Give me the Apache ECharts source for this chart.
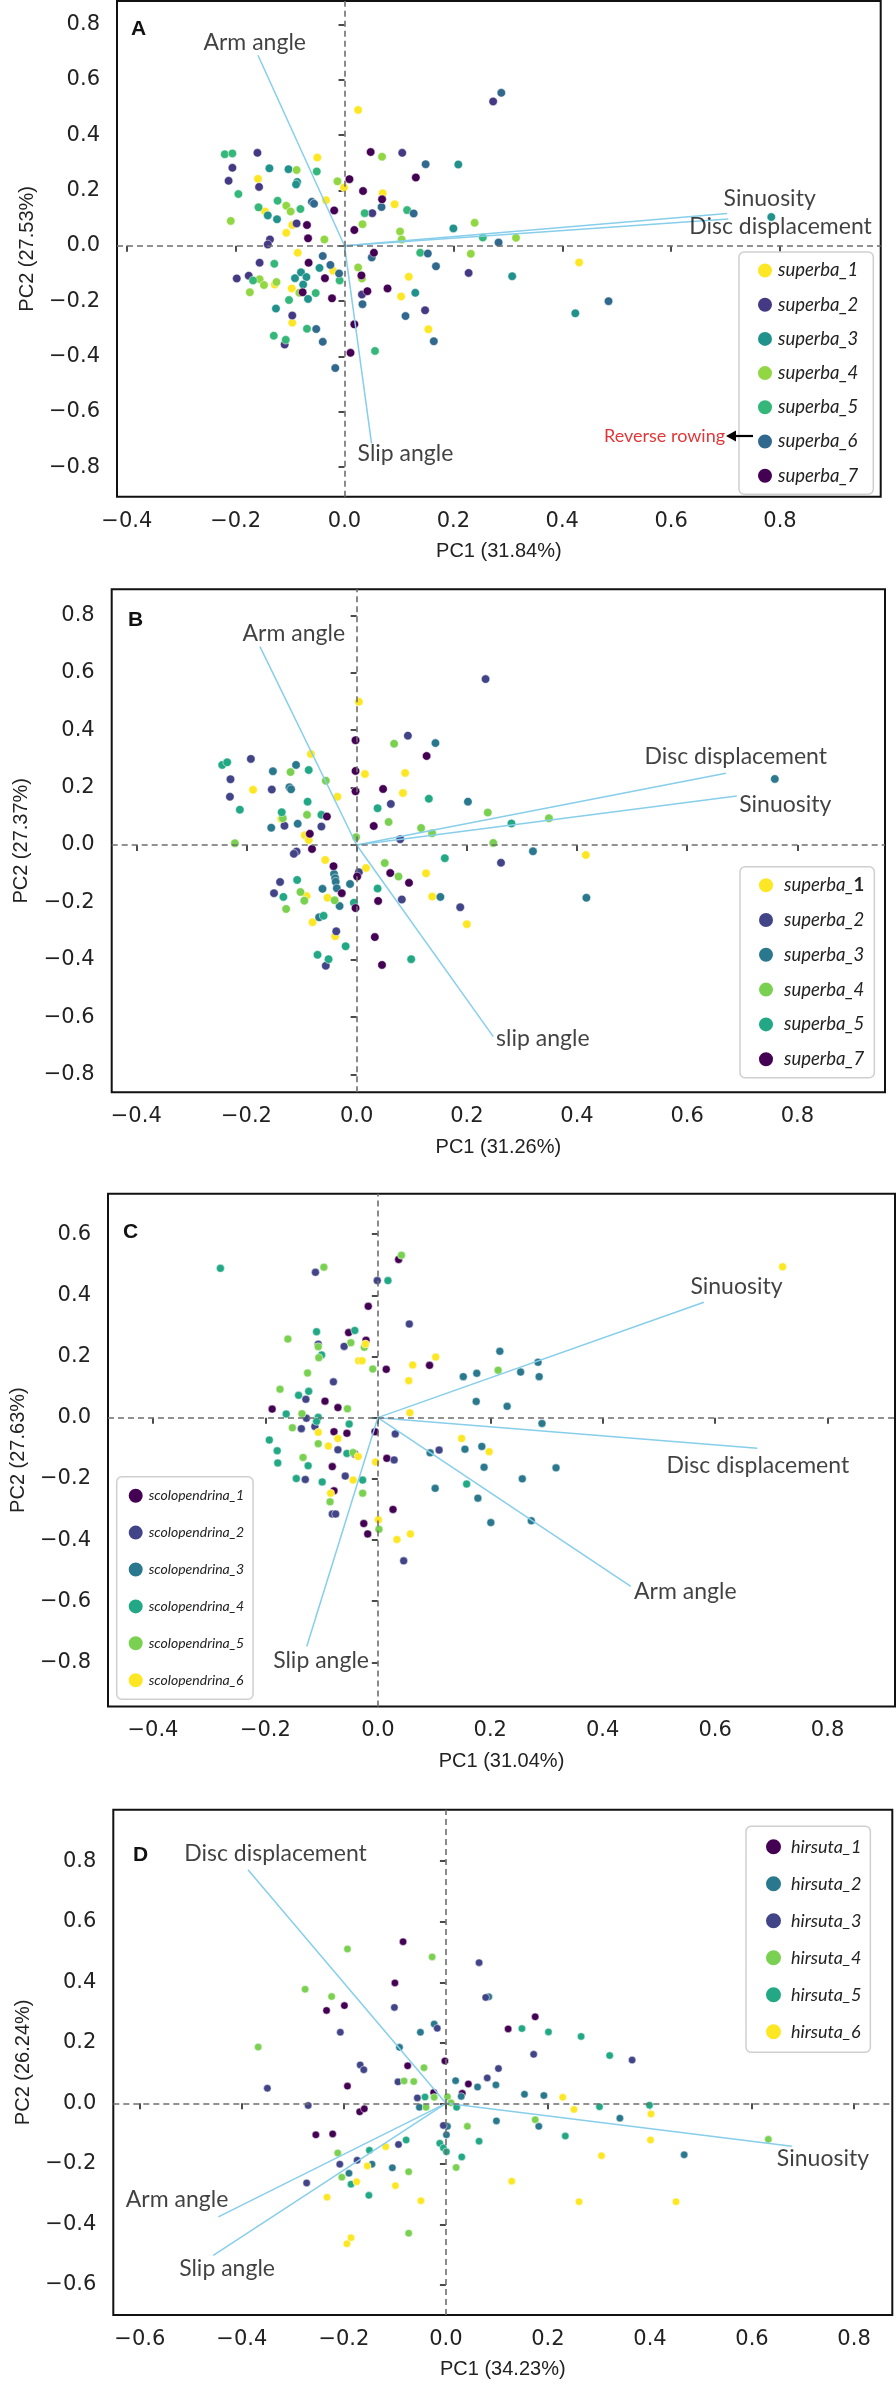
<!DOCTYPE html>
<html><head><meta charset="utf-8">
<script src="https://cdn.jsdelivr.net/npm/echarts@6.0.0/dist/echarts.min.js"></script>
<style>html,body{margin:0;padding:0;background:#fff}#c{width:896px;height:2385px}</style>
</head><body><div id="c"></div>
<script>
// ---------------- DATA ----------------
// Panel A (superba, 7 groups)
const A_groups = ['superba_1','superba_2','superba_3','superba_4','superba_5','superba_6','superba_7'];
const A_s1 = [[-0.050,0.319],[-0.159,0.242],[-0.001,0.211],[0.070,0.190],[-0.034,0.165],[0.092,0.150],[-0.146,0.124],[-0.096,0.075],[-0.107,0.047],[-0.086,-0.025],[-0.128,-0.140],[-0.021,-0.090],[0.118,-0.112],[-0.097,-0.154],[0.104,-0.183],[-0.096,-0.278],[0.154,-0.302],[0.025,0.491],[0.431,-0.060]];
const A_s2 = [[-0.160,0.336],[0.106,0.336],[-0.206,0.282],[-0.213,0.235],[-0.157,0.213],[0.051,0.118],[-0.088,0.081],[-0.137,0.023],[-0.141,0.005],[-0.156,-0.061],[-0.198,-0.118],[-0.176,-0.108],[0.228,-0.098],[0.032,-0.176],[-0.096,-0.252],[0.148,-0.233],[-0.110,-0.357],[0.273,0.522]];
const A_s3 = [[0.209,0.294],[-0.138,0.280],[-0.103,0.277],[-0.087,0.231],[-0.089,0.222],[-0.141,0.110],[-0.124,0.096],[0.200,0.063],[-0.046,-0.080],[-0.091,-0.117],[-0.080,-0.096],[-0.070,-0.113],[0.308,-0.110],[-0.076,-0.140],[-0.067,-0.192],[0.130,-0.170],[-0.126,-0.227],[0.424,-0.244],[0.784,0.104]];
const A_s4 = [[0.069,0.322],[-0.088,0.274],[-0.013,0.233],[-0.107,0.145],[-0.099,0.124],[-0.209,0.090],[0.033,0.078],[0.102,0.052],[0.105,0.023],[0.239,0.083],[-0.037,0.023],[0.315,0.029],[0.232,-0.029],[0.025,-0.078],[-0.156,-0.121],[-0.148,-0.142],[-0.125,-0.131],[0.032,-0.118],[-0.174,-0.168],[-0.083,-0.170]];
const A_s5 = [[-0.220,0.331],[-0.206,0.334],[-0.051,0.269],[-0.195,0.187],[-0.123,0.163],[0.115,0.129],[-0.158,0.139],[-0.081,0.133],[0.037,0.118],[0.254,0.030],[0.139,-0.025],[-0.129,-0.065],[-0.168,-0.125],[-0.009,-0.125],[-0.053,-0.171],[-0.102,-0.196],[-0.130,-0.325],[-0.108,-0.340],[-0.069,-0.300],[0.056,-0.380]];
const A_s6 = [[0.149,0.295],[-0.060,0.159],[-0.056,0.152],[0.068,0.140],[0.127,0.117],[0.283,0.012],[-0.040,-0.037],[0.050,-0.042],[0.153,-0.028],[-0.026,-0.069],[-0.010,-0.100],[0.168,-0.074],[0.033,-0.211],[0.112,-0.254],[-0.052,-0.301],[-0.040,-0.347],[0.164,-0.345],[-0.017,-0.442],[0.288,0.553],[0.485,-0.200]];
const A_s7 = [[0.048,0.339],[0.009,0.241],[0.034,0.198],[0.069,0.168],[0.131,0.247],[-0.019,0.128],[-0.069,0.075],[0.018,0.057],[-0.067,0.027],[0.054,-0.025],[-0.066,-0.061],[-0.036,-0.117],[0.031,-0.107],[-0.077,-0.168],[-0.023,-0.190],[0.042,-0.164],[0.079,-0.154],[0.018,-0.284],[0.011,-0.387]];
const A_vectors = [['Arm angle',-0.159,0.689],['Slip angle',0.0496,-0.714],['Sinuosity',0.703,0.117],['Disc displacement',0.705,0.0965]];
const A_vectorLabels = [['Arm angle',-0.165,0.733],['Slip angle',0.112,-0.751],['Sinuosity',0.781,0.169],['Disc displacement',0.801,0.069]];

// Panel B (superba, 6 groups)
const B_groups = ['superba_1','superba_2','superba_3','superba_4','superba_5','superba_7'];
const B_s1 = [[0.004,0.499],[-0.083,0.317],[0.015,0.247],[0.088,0.251],[-0.188,0.192],[0.084,0.181],[-0.035,0.168],[-0.137,0.091],[-0.094,0.034],[-0.087,0.017],[-0.057,-0.052],[0.017,-0.080],[0.126,-0.099],[-0.091,-0.178],[-0.053,-0.184],[0.137,-0.180],[-0.080,-0.269],[0.200,-0.276],[-0.039,-0.318],[0.416,-0.035]];
const B_s2 = [[0.093,0.381],[-0.192,0.300],[-0.229,0.229],[-0.154,0.193],[-0.230,0.168],[0.062,0.143],[-0.131,0.067],[-0.064,0.064],[0.079,0.020],[-0.109,-0.023],[-0.114,-0.031],[0.262,-0.062],[0.004,-0.095],[-0.139,-0.129],[-0.150,-0.168],[0.082,-0.190],[0.188,-0.217],[-0.037,-0.301],[0.234,0.578],[-0.056,-0.421]];
const B_s3 = [[0.143,0.355],[-0.110,0.279],[-0.152,0.257],[-0.122,0.201],[-0.119,0.194],[0.202,0.151],[-0.155,0.060],[-0.107,0.074],[-0.041,-0.101],[-0.039,-0.116],[-0.038,-0.128],[-0.012,-0.136],[-0.062,-0.153],[-0.036,-0.151],[0.152,-0.181],[-0.031,-0.213],[-0.068,-0.252],[0.759,0.230],[0.320,-0.022],[0.417,-0.184]];
const B_s4 = [[0.068,0.353],[-0.120,0.254],[-0.056,0.224],[-0.090,0.105],[-0.134,0.093],[0.058,0.080],[0.238,0.113],[0.117,0.059],[0.137,0.041],[-0.001,0.027],[-0.221,0.006],[0.248,0.007],[0.051,-0.063],[0.076,-0.110],[-0.102,-0.164],[-0.040,-0.193],[-0.095,-0.194],[-0.128,-0.223],[0.349,0.093]];
const B_s5 = [[-0.244,0.279],[-0.235,0.288],[-0.087,0.261],[0.131,0.161],[-0.089,0.151],[0.038,0.128],[-0.212,0.123],[-0.136,0.114],[-0.064,0.105],[0.281,0.075],[0.160,-0.046],[-0.108,-0.122],[-0.133,-0.181],[0.038,-0.152],[-0.005,-0.201],[-0.060,-0.247],[-0.020,-0.353],[-0.071,-0.383],[-0.051,-0.398],[0.099,-0.398]];
const B_s7 = [[-0.002,0.365],[0.127,0.310],[-0.002,0.258],[-0.002,0.187],[0.048,0.195],[-0.054,0.099],[0.031,0.066],[-0.085,0.039],[-0.081,-0.014],[-0.042,-0.074],[0.001,-0.110],[0.061,-0.098],[0.095,-0.132],[-0.027,-0.168],[0.039,-0.195],[-0.002,-0.220],[0.033,-0.321],[0.046,-0.418]];
const B_vectors = [['Arm angle',-0.1755,0.691],['slip angle',0.248,-0.668],['Disc displacement',0.670,0.250],['Sinuosity',0.690,0.171]];
const B_vectorLabels = [['Arm angle',-0.114,0.738],['slip angle',0.338,-0.674],['Disc displacement',0.688,0.308],['Sinuosity',0.778,0.139]];

// Panel C (scolopendrina, 6 groups)
const C_groups = ['scolopendrina_1','scolopendrina_2','scolopendrina_3','scolopendrina_4','scolopendrina_5','scolopendrina_6'];
const C_s1 = [[0.037,0.517],[-0.017,0.364],[-0.052,0.278],[-0.021,0.253],[0.015,0.158],[0.092,0.171],[-0.094,0.054],[-0.188,0.028],[-0.071,0.033],[-0.078,-0.046],[-0.055,-0.051],[-0.005,-0.046],[-0.041,-0.119],[0.016,-0.133],[-0.081,-0.160],[-0.078,-0.239],[-0.025,-0.346],[-0.018,-0.380],[0.027,-0.300]];
const C_s2 = [[-0.111,0.475],[-0.001,0.448],[0.056,0.306],[-0.106,0.240],[-0.060,0.233],[-0.079,0.117],[-0.128,0.060],[-0.127,-0.002],[-0.112,-0.029],[-0.136,-0.036],[0.031,-0.053],[-0.071,-0.105],[0.029,-0.138],[0.109,-0.106],[-0.058,-0.191],[-0.129,-0.202],[-0.081,-0.315],[-0.075,-0.315],[0.046,-0.468]];
const C_s3 = [[0.217,0.217],[0.152,0.134],[0.176,0.145],[0.254,0.149],[0.285,0.181],[0.287,0.134],[0.175,0.053],[0.230,0.037],[0.292,-0.019],[0.185,-0.094],[0.155,-0.103],[0.093,-0.115],[0.189,-0.162],[0.317,-0.164],[0.257,-0.200],[0.102,-0.231],[0.178,-0.263],[0.201,-0.343],[0.273,-0.337]];
const C_s4 = [[-0.280,0.488],[0.018,0.448],[-0.109,0.281],[-0.041,0.285],[-0.100,0.205],[-0.141,0.073],[-0.123,0.086],[-0.163,0.012],[-0.106,0.001],[-0.109,-0.012],[-0.051,-0.021],[-0.193,-0.073],[-0.179,-0.108],[-0.055,-0.117],[-0.178,-0.148],[-0.124,-0.157],[-0.145,-0.199],[-0.099,-0.210],[-0.027,-0.204],[0.158,-0.217]];
const C_s5 = [[-0.096,0.492],[0.042,0.531],[-0.160,0.257],[-0.106,0.232],[-0.048,0.245],[-0.024,0.230],[-0.105,0.196],[-0.009,0.159],[0.214,0.155],[-0.125,0.146],[-0.174,0.093],[-0.054,0.029],[-0.135,0.013],[-0.152,-0.033],[-0.106,-0.085],[-0.133,-0.130],[-0.044,-0.114],[-0.027,-0.247],[-0.085,-0.275],[0.002,-0.365]];
const C_s6 = [[-0.022,0.241],[-0.034,0.186],[-0.028,0.186],[0.062,0.172],[0.103,0.198],[0.055,0.121],[0.057,0.016],[-0.106,-0.048],[-0.088,-0.093],[-0.071,-0.068],[-0.035,-0.127],[-0.004,-0.145],[0.149,-0.068],[0.198,-0.111],[-0.044,-0.204],[-0.084,-0.247],[0.001,-0.334],[0.034,-0.398],[0.058,-0.380],[0.720,0.493]];
const C_vectors = [['Sinuosity',0.580,0.377],['Disc displacement',0.675,-0.100],['Arm angle',0.450,-0.551],['Slip angle',-0.1265,-0.748]];
const C_vectorLabels = [['Sinuosity',0.638,0.430],['Disc displacement',0.676,-0.155],['Arm angle',0.547,-0.570],['Slip angle',-0.101,-0.794]];

// Panel D (hirsuta, 6 groups)
const D_groups = ['hirsuta_1','hirsuta_2','hirsuta_3','hirsuta_4','hirsuta_5','hirsuta_6'];
const D_s1 = [[-0.084,0.534],[-0.100,0.398],[-0.234,0.307],[-0.199,0.323],[0.175,0.286],[0.122,0.246],[-0.075,0.124],[-0.002,0.140],[-0.193,0.057],[0.044,0.064],[-0.024,0.036],[0.032,0.033],[-0.169,-0.028],[-0.160,-0.018],[-0.255,-0.104],[-0.222,-0.101]];
const D_s2 = [[0.084,0.352],[-0.050,0.235],[-0.023,0.262],[-0.091,0.185],[0.019,0.075],[0.062,0.054],[0.098,0.061],[0.154,0.030],[0.192,0.026],[0.030,0.023],[-0.052,-0.013],[0.003,-0.076],[0.001,-0.104],[-0.145,-0.201],[-0.105,-0.213],[-0.190,-0.231],[0.099,-0.058],[0.182,-0.076],[0.341,-0.049],[0.467,-0.170]];
const D_s3 = [[0.065,0.465],[0.078,0.350],[-0.101,0.317],[-0.207,0.235],[-0.017,0.248],[0.365,0.143],[0.172,0.162],[-0.168,0.127],[-0.161,0.111],[0.103,0.115],[-0.350,0.050],[-0.094,0.071],[0.081,0.084],[-0.056,0.018],[-0.270,-0.007],[-0.005,-0.073],[-0.208,-0.201],[-0.174,-0.188],[-0.093,-0.136],[-0.273,-0.263]];
const D_s4 = [[-0.193,0.510],[-0.027,0.484],[-0.276,0.377],[-0.224,0.353],[-0.368,0.186],[-0.043,0.118],[-0.082,0.074],[-0.063,0.072],[-0.023,0.020],[0.003,0.022],[0.010,0.002],[-0.039,-0.013],[-0.212,-0.164],[-0.204,-0.244],[-0.073,-0.226],[-0.073,-0.429],[0.042,-0.076],[0.175,-0.054],[0.632,-0.119],[0.020,-0.212]];
const D_s5 = [[0.149,0.247],[0.201,0.236],[0.265,0.221],[0.321,0.158],[-0.041,0.021],[0.301,-0.011],[0.399,-0.006],[0.021,-0.013],[-0.012,-0.132],[-0.005,-0.147],[0.001,-0.160],[-0.150,-0.155],[-0.078,-0.121],[-0.186,-0.267],[-0.151,-0.304],[0.234,-0.108],[0.065,-0.125],[0.031,-0.177]];
const D_s6 = [[0.229,0.020],[0.251,-0.020],[-0.154,-0.207],[-0.118,-0.143],[-0.175,-0.259],[-0.099,-0.272],[-0.049,-0.322],[-0.233,-0.310],[-0.186,-0.444],[-0.194,-0.464],[0.402,-0.035],[0.401,-0.121],[0.305,-0.173],[0.129,-0.257],[0.261,-0.325],[0.451,-0.325]];
const D_vectors = [['Disc displacement',-0.388,0.772],['Arm angle',-0.446,-0.375],['Slip angle',-0.456,-0.502],['Sinuosity',0.678,-0.142]];
const D_vectorLabels = [['Disc displacement',-0.334,0.825],['Arm angle',-0.527,-0.319],['Slip angle',-0.429,-0.546],['Sinuosity',0.739,-0.184]];

// tick labels
const ticksX_ABC = [-0.4,-0.2,0.0,0.2,0.4,0.6,0.8];
const ticksX_D = [-0.6,-0.4,-0.2,0.0,0.2,0.4,0.6,0.8];
const ticksY_AB = [-0.8,-0.6,-0.4,-0.2,0.0,0.2,0.4,0.6,0.8];
const ticksY_C = [-0.8,-0.6,-0.4,-0.2,0.0,0.2,0.4,0.6];
const ticksY_D = [-0.6,-0.4,-0.2,0.0,0.2,0.4,0.6,0.8];
const axisTitles = [['PC1 (31.84%)','PC2 (27.53%)'],['PC1 (31.26%)','PC2 (27.37%)'],['PC1 (31.04%)','PC2 (27.63%)'],['PC1 (34.23%)','PC2 (26.24%)']];
const panelLetters = ['A','B','C','D'];

// ---------------- STYLE / LAYOUT ----------------
const panels = [
  {groups:A_groups, data:[A_s1,A_s2,A_s3,A_s4,A_s5,A_s6,A_s7], vec:A_vectors, vlab:A_vectorLabels,
   colors:['#fde725','#443983','#21918c','#90d743','#35b779','#31688e','#440154'],
   xr:[-0.418,0.985], yr:[-0.907,0.885], xt:ticksX_ABC, yt:ticksY_AB,
   grid:{left:117,top:1,width:763.7,height:495.7}, sym:8.5,
   letter:{left:131,top:19},
   legend:{left:739,top:252,padding:[9,15,9,17],itemGap:15.2,font:18.5,icon:16,textPad:0},
   suffixBold:false},
  {groups:B_groups, data:[B_s1,B_s2,B_s3,B_s4,B_s5,B_s7], vec:B_vectors, vlab:B_vectorLabels,
   colors:['#fde725','#414487','#2a788e','#7ad151','#22a884','#440154'],
   xr:[-0.4446,0.959], yr:[-0.862,0.891], xt:ticksX_ABC, yt:ticksY_AB,
   grid:{left:111.7,top:589.3,width:773.3,height:503}, sym:8.5,
   letter:{left:128,top:610},
   legend:{left:740,top:866.7,padding:[9,10,9,17],itemGap:15.8,font:18.5,icon:16,textPad:5},
   suffixBold:true},
  {groups:C_groups, data:[C_s1,C_s2,C_s3,C_s4,C_s5,C_s6], vec:C_vectors, vlab:C_vectorLabels,
   colors:['#440154','#414487','#2a788e','#22a884','#7ad151','#fde725'],
   xr:[-0.480,0.920], yr:[-0.944,0.732], xt:ticksX_ABC, yt:ticksY_C,
   grid:{left:104.7,top:1193.7,width:790.3,height:512.8}, sym:8,
   letter:{left:123,top:1222},
   legend:{left:116.7,top:1476.7,padding:[10,9,10,10],itemGap:18.9,font:14,icon:16,textPad:0},
   suffixBold:false},
  {groups:D_groups, data:[D_s1,D_s2,D_s3,D_s4,D_s5,D_s6], vec:D_vectors, vlab:D_vectorLabels,
   colors:['#440154','#2a788e','#414487','#7ad151','#22a884','#fde725'],
   xr:[-0.652,0.875], yr:[-0.699,0.970], xt:ticksX_D, yt:ticksY_D,
   grid:{left:113.3,top:1809.8,width:779,height:505.1}, sym:7.5,
   letter:{left:133,top:1845},
   legend:{left:746,top:1826.2,padding:[11,9,11,18],itemGap:18,font:18,icon:17,textPad:4},
   suffixBold:false}
];

function fmt(v){
  const s = Math.abs(v) < 1e-9 ? '0.0' : v.toFixed(1);
  return s.replace('-', '\u2212');
}

const option = {
  backgroundColor:'#fff',
  animation:false,
  title:[], grid:[], xAxis:[], yAxis:[], legend:[], series:[],
  graphic:[
    {type:'text', x:604, y:436, style:{text:'Reverse rowing', fill:'#e0383a', fontSize:18, fontFamily:'Lato', align:'left', verticalAlign:'middle'}, z:100},
    {type:'line', shape:{x1:753,y1:436,x2:733,y2:436}, style:{stroke:'#000', lineWidth:2.2}, z:100},
    {type:'polygon', shape:{points:[[726,436],[736,430.5],[736,441.5]]}, style:{fill:'#000'}, z:100}
  ]
};

panels.forEach((p, i) => {
  option.grid.push(Object.assign({show:true, borderColor:'#111', borderWidth:2, backgroundColor:'transparent', containLabel:false}, p.grid));
  option.title.push({text:panelLetters[i], left:p.letter.left, top:p.letter.top, padding:0,
    textStyle:{fontFamily:'Liberation Sans', fontWeight:'bold', fontSize:21, color:'#111'}});
  option.xAxis.push({type:'value', gridIndex:i, min:p.xr[0], max:p.xr[1],
    name:axisTitles[i][0], nameLocation:'middle', nameGap:45,
    nameTextStyle:{fontFamily:'Liberation Sans', fontSize:20, color:'#222'},
    axisLine:{show:false}, splitLine:{show:false},
    axisTick:{show:true, length:6, lineStyle:{color:'#111', width:1.5}, customValues:p.xt},
    axisLabel:{show:true, margin:14, fontFamily:'DejaVu Sans', fontSize:21, color:'#222', customValues:p.xt, formatter:fmt}});
  option.yAxis.push({type:'value', gridIndex:i, min:p.yr[0], max:p.yr[1],
    name:axisTitles[i][1], nameLocation:'middle', nameGap:80,
    nameTextStyle:{fontFamily:'Liberation Sans', fontSize:20, color:'#222'},
    axisLine:{show:false}, splitLine:{show:false},
    axisTick:{show:true, length:6, lineStyle:{color:'#111', width:1.5}, customValues:p.yt},
    axisLabel:{show:true, margin:17, fontFamily:'DejaVu Sans', fontSize:21, color:'#222', customValues:p.yt, formatter:fmt}});

  const prefix = panelLetters[i] + ':';
  p.groups.forEach((g, k) => {
    option.series.push({type:'scatter', name:prefix + g, xAxisIndex:i, yAxisIndex:i,
      data:p.data[k], symbolSize:p.sym, z:2,
      itemStyle:{color:p.colors[k], borderColor:'#fff', borderWidth:0.5, opacity:1},
      emphasis:{disabled:true}, silent:true});
  });
  option.series.push({type:'line', xAxisIndex:i, yAxisIndex:i, data:[], silent:true, z:1,
    markLine:{silent:true, symbol:'none', animation:false, label:{show:false},
      lineStyle:{type:[6,4], color:'#6e6e6e', width:1.6},
      emphasis:{disabled:true},
      data:[{xAxis:0},{yAxis:0}]}});
  p.vec.forEach(v => {
    option.series.push({type:'line', xAxisIndex:i, yAxisIndex:i, data:[[0,0],[v[1],v[2]]],
      showSymbol:false, symbol:'none', silent:true, z:3,
      lineStyle:{color:'#87ceeb', width:1.5}, emphasis:{disabled:true}});
  });
  option.series.push({type:'scatter', xAxisIndex:i, yAxisIndex:i, silent:true, z:4,
    data:p.vlab.map(l => [l[1], l[2], l[0]]), symbolSize:2,
    itemStyle:{color:'rgba(255,255,255,0)', borderWidth:0},
    label:{show:true, position:'inside', formatter:q => q.data[2], fontFamily:'Lato', fontSize:23, color:'#111', align:'center', verticalAlign:'middle'},
    labelLayout:{hideOverlap:false},
    emphasis:{disabled:true}});
  const L = p.legend;
  option.legend.push({show:true, orient:'vertical', left:L.left, top:L.top, padding:L.padding,
    itemGap:L.itemGap, itemWidth:L.icon, itemHeight:L.icon, icon:'circle', selectedMode:false,
    borderColor:'#cfcfcf', borderWidth:1.5, borderRadius:5, backgroundColor:'rgba(255,255,255,0.85)',
    data:p.groups.map(g => prefix + g),
    formatter:name => {
      const g = name.slice(prefix.length);
      const idx = g.lastIndexOf('_');
      const base = g.slice(0, idx), num = g.slice(idx + 1);
      return (p.suffixBold && num === '1') ? '{i|' + base + '_}{b|1}' : '{i|' + g + '}';
    },
    textStyle:{color:'#222', fontSize:L.font, lineHeight:L.icon, fontFamily:'Lato',
      rich:{
        i:{fontStyle:'italic', fontFamily:'Lato', fontSize:L.font, color:'#222', padding:[0,0,0,L.textPad]},
        b:{fontWeight:'bold', fontFamily:'Lato', fontSize:L.font, color:'#222'}
      }}
  });
});

const chart = echarts.init(document.getElementById('c'), null, {renderer:'canvas', width:896, height:2385});
chart.setOption(option);
</script></body></html>
